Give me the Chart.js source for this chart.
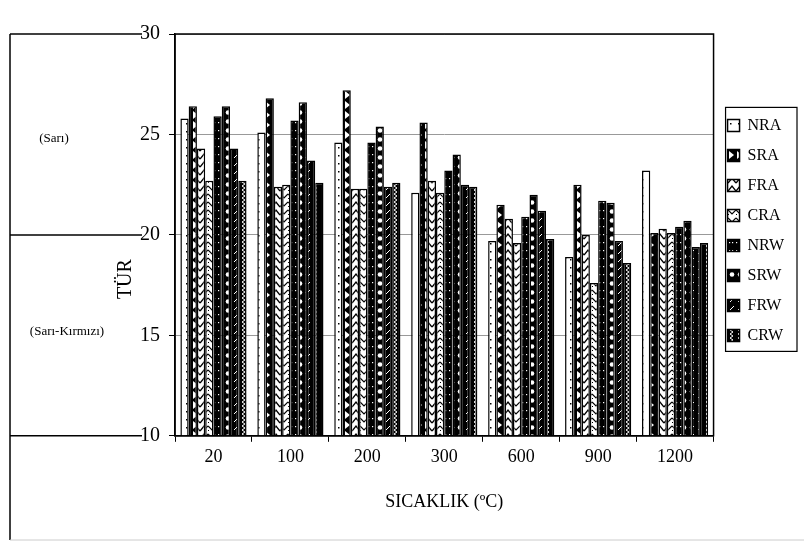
<!DOCTYPE html>
<html>
<head>
<meta charset="utf-8">
<script src="https://cdn.jsdelivr.net/npm/chart.js@4/dist/chart.umd.min.js"></script>
<style>
  html, body { margin: 0; background: #fff; }
  #wrap { width: 804px; height: 551px; }
</style>
</head>
<body>
<div id="wrap"><canvas id="chart"></canvas></div>
<script>
// temperatures (x categories)
const temps = ["20", "100", "200", "300", "600", "900", "1200"];

// TÜR values, one array per sample
const NRA = [25.8, 25.1, 24.6, 22.1, 19.7, 18.9, 23.2];
const SRA = [26.4, 26.8, 27.2, 25.6, 21.5, 22.5, 20.1];
const FRA = [24.3, 22.4, 22.3, 22.7, 20.8, 20.0, 20.3];
const CRA = [22.7, 22.5, 22.3, 22.1, 19.6, 17.6, 20.1];
const NRW = [25.9, 25.7, 24.6, 23.2, 20.9, 21.7, 20.4];
const SRW = [26.4, 26.6, 25.4, 24.0, 22.0, 21.6, 20.7];
const FRW = [24.3, 23.7, 22.4, 22.5, 21.2, 19.7, 19.4];
const CRW = [22.7, 22.6, 22.6, 22.4, 19.8, 18.6, 19.6];

const yTicks = [10, 15, 20, 25, 30];

const serif = '"Liberation Serif", "Times New Roman", serif';

// small black/white hatch fills, like the printed figure
function makePattern(w, h, bg, draw) {
  const c = document.createElement("canvas");
  c.width = w;
  c.height = h;
  const g = c.getContext("2d");
  g.fillStyle = bg;
  g.fillRect(0, 0, w, h);
  draw(g);
  return g.createPattern(c, "repeat");
}

const fills = {
  NRA: makePattern(8, 8, "#fff", g => {
    g.fillStyle = "#000";
    g.fillRect(2, 3, 1.5, 1.5);
  }),
  SRA: makePattern(8, 10, "#000", g => {
    g.fillStyle = "#fff";
    g.beginPath();
    g.moveTo(1, 1); g.lineTo(6, 5); g.lineTo(1, 9);
    g.closePath();
    g.fill();
  }),
  FRA: makePattern(8, 8, "#fff", g => {
    g.strokeStyle = "#000";
    g.lineWidth = 1.4;
    g.beginPath();
    g.moveTo(0, 7); g.lineTo(4, 2); g.lineTo(8, 7);
    g.stroke();
  }),
  CRA: makePattern(8, 8, "#fff", g => {
    g.strokeStyle = "#000";
    g.lineWidth = 1.2;
    g.beginPath();
    g.moveTo(0, 2); g.lineTo(4, 6); g.lineTo(8, 2);
    g.stroke();
    g.fillStyle = "#000";
    g.fillRect(0, 6, 1, 1);
  }),
  NRW: makePattern(7, 8, "#000", g => {
    g.fillStyle = "#fff";
    g.fillRect(1, 2, 1.2, 1.2);
    g.fillRect(4, 2, 1.2, 1.2);
  }),
  SRW: makePattern(8, 9, "#000", g => {
    g.fillStyle = "#fff";
    g.beginPath();
    g.arc(4, 4.5, 2.3, 0, Math.PI * 2);
    g.fill();
  }),
  FRW: makePattern(8, 8, "#000", g => {
    g.strokeStyle = "#fff";
    g.lineWidth = 1;
    g.beginPath();
    g.moveTo(2, 6); g.lineTo(6, 2);
    g.stroke();
  }),
  CRW: makePattern(8, 8, "#000", g => {
    g.strokeStyle = "#fff";
    g.lineWidth = 1;
    g.beginPath();
    g.moveTo(5, 0); g.lineTo(2, 2); g.lineTo(5, 4); g.lineTo(2, 6); g.lineTo(5, 8);
    g.stroke();
  })
};

const series = [
  ["NRA", NRA], ["SRA", SRA], ["FRA", FRA], ["CRA", CRA],
  ["NRW", NRW], ["SRW", SRW], ["FRW", FRW], ["CRW", CRW]
];

// frame around the plot, the legend box, the y title and the left-hand notes
const extras = {
  id: "extras",
  afterDraw(chart) {
    const { ctx, chartArea: a, scales: { y } } = chart;
    ctx.save();
    ctx.strokeStyle = "#000";
    ctx.lineWidth = 1.5;
    ctx.strokeRect(a.left, a.top, a.right - a.left, a.bottom - a.top);

    // legend frame
    const boxes = chart.legend.legendHitBoxes;
    if (boxes && boxes.length) {
      const top = Math.min(...boxes.map(b => b.top)) - 10;
      const bottom = Math.max(...boxes.map(b => b.top + b.height)) + 8;
      const left = Math.min(...boxes.map(b => b.left)) - 2;
      const right = Math.max(...boxes.map(b => b.left + b.width)) + 13;
      ctx.lineWidth = 1.2;
      ctx.strokeRect(left, top, right - left, bottom - top);
    }

    // colour band notes on the left
    ctx.lineWidth = 1.5;
    [30, 20, 10].forEach(v => {
      const py = y.getPixelForValue(v);
      ctx.beginPath();
      ctx.moveTo(10, py);
      ctx.lineTo(142, py);
      ctx.stroke();
    });
    ctx.beginPath();
    ctx.moveTo(10, y.getPixelForValue(30));
    ctx.lineTo(10, 540);
    ctx.stroke();
    ctx.strokeStyle = "#ccc";
    ctx.lineWidth = 1;
    ctx.beginPath();
    ctx.moveTo(10, 540);
    ctx.lineTo(804, 540);
    ctx.stroke();

    ctx.fillStyle = "#000";
    ctx.font = "13px " + serif;
    ctx.textAlign = "center";
    ctx.textBaseline = "middle";
    ctx.fillText("(Sarı)", 54, y.getPixelForValue(24.8));
    ctx.fillText("(Sarı-Kırmızı)", 67, y.getPixelForValue(15.2));

    // y axis title sits a little below the middle in the original
    ctx.font = "20px " + serif;
    ctx.translate(126, y.getPixelForValue(17.8));
    ctx.rotate(-Math.PI / 2);
    ctx.fillText("TÜR", 0, 0);
    ctx.restore();
  }
};

new Chart(document.getElementById("chart"), {
  type: "bar",
  data: {
    labels: temps,
    datasets: series.map(([name, vals]) => ({
      label: name,
      data: vals,
      backgroundColor: fills[name],
      borderColor: "#000",
      borderWidth: 1.5,
      borderSkipped: false,
      categoryPercentage: 0.86,
      barPercentage: 1.0
    }))
  },
  options: {
    responsive: true,
    maintainAspectRatio: false,
    animation: false,
    layout: { padding: { left: 131, right: 10, top: 34, bottom: 34 } },
    plugins: {
      tooltip: { enabled: false },
      legend: {
        position: "right",
        align: "start",
        title: {
          display: true,
          text: " ",
          font: { size: 12 },
          padding: { top: 55, bottom: 0 }
        },
        labels: {
          color: "#000",
          font: { family: serif, size: 16 },
          boxWidth: 12,
          boxHeight: 12,
          padding: 14
        }
      }
    },
    scales: {
      x: {
        grid: { display: true, drawOnChartArea: false, tickLength: 6, tickColor: "#000" },
        border: { color: "#000", width: 1.5 },
        ticks: { color: "#000", font: { family: serif, size: 18 }, padding: 5 },
        title: {
          display: true,
          text: "SICAKLIK (ºC)",
          color: "#000",
          font: { family: serif, size: 18 },
          padding: { top: 18 }
        }
      },
      y: {
        min: 10,
        max: 30,
        afterBuildTicks: s => { s.ticks = yTicks.map(v => ({ value: v })); },
        grid: { color: "#999", tickColor: "#000", tickLength: 6 },
        border: { color: "#000", width: 1.5 },
        ticks: { color: "#000", font: { family: serif, size: 20 }, padding: 9 },
        title: { display: false }
      }
    }
  },
  plugins: [extras]
});
</script>
</body>
</html>
